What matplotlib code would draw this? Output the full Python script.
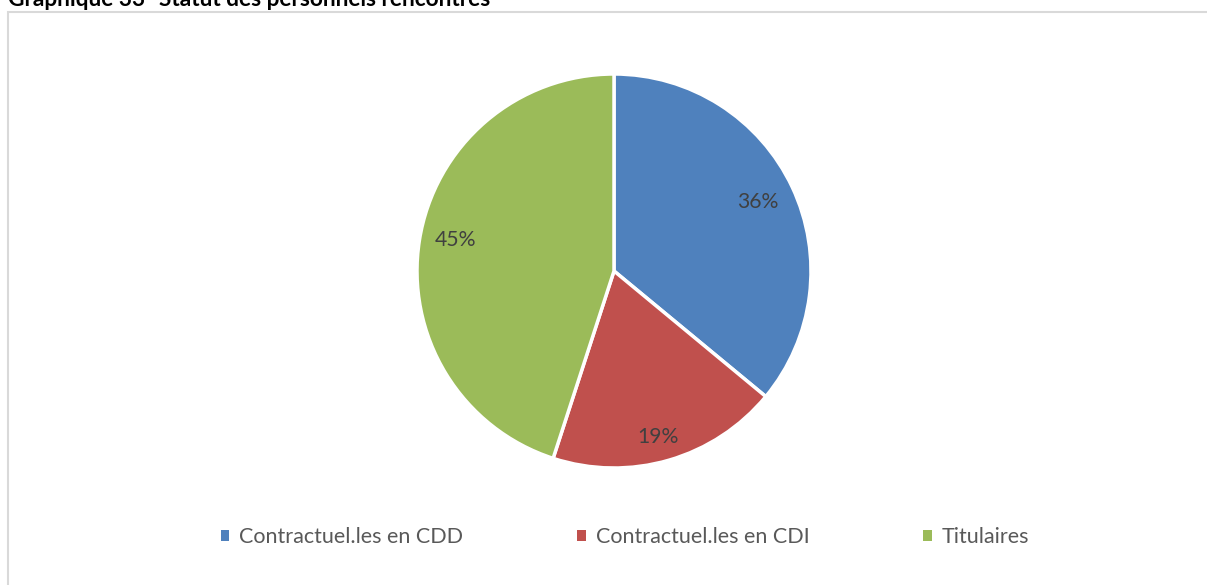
import matplotlib
matplotlib.use("Agg")
import matplotlib.pyplot as plt
from matplotlib.patches import Rectangle
import numpy as np

# Data
categories = ["Contractuel.les en CDD", "Contractuel.les en CDI", "Titulaires"]
shares = [36, 19, 45]
colors = ["#4F81BD", "#C0504D", "#9BBB59"]
title = "Graphique 33- Statut des personnels rencontrés"

plt.rcParams["font.family"] = ["Lato", "DejaVu Sans"]

W, H, DPI = 1207, 585, 100
fig = plt.figure(figsize=(W / DPI, H / DPI), dpi=DPI)
fig.patch.set_facecolor("white")

# Chart area frame (runs off the right and bottom edges)
fig.add_artist(Rectangle((8 / W, -0.05), 1.2, (H - 12) / H + 0.05,
                         transform=fig.transFigure, fill=False,
                         edgecolor="#D9D9D9", linewidth=1.5))

# Title, partially cropped at the top
fig.text(8 / W, 1 - 6.5 / H, title, fontsize=16.3, fontweight="bold",
         color="black", ha="left", va="baseline")

# Pie
cx, cy, r = 614, 271, 197
ax = fig.add_axes([(cx - r) / W, 1 - (cy + r) / H, 2 * r / W, 2 * r / H])
wedges, _ = ax.pie(shares, colors=colors, startangle=90, counterclock=False,
                   wedgeprops=dict(edgecolor="white", linewidth=2.5))
ax.set_xlim(-1, 1)
ax.set_ylim(-1, 1)
ax.set_aspect("equal")
ax.axis("off")

# Percentage labels: (distance from centre, angular shift in degrees)
label_layout = [(0.81, 0.5), (0.87, -1.2), (0.82, -2.0)]
for w, val, (dist, shift) in zip(wedges, shares, label_layout):
    ang = np.deg2rad((w.theta1 + w.theta2) / 2 + shift)
    ax.text(dist * np.cos(ang), dist * np.sin(ang), f"{val}%",
            ha="center", va="center", fontsize=15.2, color="#404040")

# Legend
handles = [Rectangle((0, 0), 1, 1, facecolor=c, edgecolor="none") for c in colors]
fig.legend(handles, categories, loc="center", bbox_to_anchor=(625 / W, 1 - 537 / H),
           ncol=3, frameon=False, fontsize=15.5, labelcolor="#595959",
           handlelength=0.4, handleheight=0.4, handletextpad=0.45,
           columnspacing=5.3)

fig.savefig("out.png", dpi=DPI)
